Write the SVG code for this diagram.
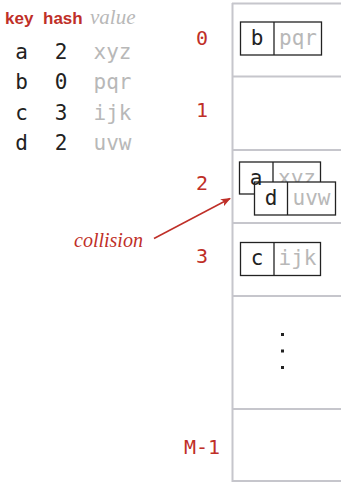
<svg xmlns="http://www.w3.org/2000/svg" width="341" height="482" viewBox="0 0 341 482">
<style>
.hdr{font-family:"Liberation Sans",Arial,sans-serif;font-weight:bold;font-size:17px;fill:#bf2f28}
.hval{font-family:"Liberation Serif","Times New Roman",serif;font-style:italic;font-size:21px;fill:#b8b8b8}
.k{font-family:"DejaVu Sans Mono",monospace;font-size:21px;fill:#222;text-anchor:middle}
.v{font-family:"DejaVu Sans Mono",monospace;font-size:21px;fill:#b8b8b8;text-anchor:middle}
.idx{font-family:"DejaVu Sans Mono",monospace;font-size:20px;fill:#bf2f28;text-anchor:middle}
.grid{stroke:#c6c6cc;stroke-width:2;fill:none}
.box{stroke:#222;stroke-width:1.3;fill:#fff}
.note{font-family:"Liberation Serif","Times New Roman",serif;font-style:italic;font-size:20px;fill:#bf2f28}
</style>
<defs>
<marker id="ah" markerWidth="10" markerHeight="8" refX="9" refY="4" orient="auto" markerUnits="userSpaceOnUse">
<path d="M0,0 L10,4 L0,8 L2.5,4 Z" fill="#bf2f28"/>
</marker>
</defs>
<rect width="341" height="482" fill="#fff"/>

<g id="input-table">
<text class="hdr" x="5" y="24">key</text>
<text class="hdr" x="43" y="24">hash</text>
<text class="hval" x="90" y="24">value</text>
<text class="k" x="21.5" y="59">a</text><text class="k" x="61" y="59">2</text><text class="v" x="112.5" y="59">xyz</text>
<text class="k" x="21.5" y="89">b</text><text class="k" x="61" y="89">0</text><text class="v" x="112.5" y="89">pqr</text>
<text class="k" x="21.5" y="120">c</text><text class="k" x="61" y="120">3</text><text class="v" x="112.5" y="120">ijk</text>
<text class="k" x="21.5" y="150">d</text><text class="k" x="61" y="150">2</text><text class="v" x="112.5" y="150">uvw</text>
</g>

<g id="hash-table">
<line class="grid" x1="232.5" y1="3" x2="232.5" y2="482"/>
<line class="grid" x1="232" y1="3.5" x2="341" y2="3.5"/>
<line class="grid" x1="232" y1="76.5" x2="341" y2="76.5"/>
<line class="grid" x1="232" y1="150" x2="341" y2="150"/>
<line class="grid" x1="232" y1="223" x2="341" y2="223"/>
<line class="grid" x1="232" y1="296" x2="341" y2="296"/>
<line class="grid" x1="232" y1="409" x2="341" y2="409"/>
<line class="grid" x1="232" y1="481" x2="341" y2="481"/>
</g>

<g id="indices">
<text class="idx" x="202" y="45">0</text>
<text class="idx" x="202" y="117">1</text>
<text class="idx" x="202" y="190">2</text>
<text class="idx" x="202" y="263">3</text>
<text class="idx" x="202" y="454">M-1</text>
</g>

<g id="entry-b">
<rect class="box" x="240.5" y="22" width="81" height="33"/>
<line class="box" x1="274" y1="22" x2="274" y2="55"/>
<text class="k" x="257" y="45">b</text>
<text class="v" x="298" y="45">pqr</text>
</g>

<g id="entry-a">
<rect class="box" x="239.5" y="162" width="81" height="32"/>
<line class="box" x1="273" y1="162" x2="273" y2="194"/>
<text class="v" x="297" y="185">xyz</text>
</g>

<g id="entry-d">
<rect class="box" x="254.5" y="182" width="81" height="33"/>
<line class="box" x1="287.5" y1="182" x2="287.5" y2="215"/>
<text class="k" x="271" y="205">d</text>
<text class="v" x="311.5" y="205">uvw</text>
<text class="k" x="256" y="185">a</text>
</g>

<g id="entry-c">
<rect class="box" x="240.5" y="242.5" width="80" height="33"/>
<line class="box" x1="274" y1="242.5" x2="274" y2="275.5"/>
<text class="k" x="257" y="265">c</text>
<text class="v" x="297.5" y="265">ijk</text>
</g>

<g id="ellipsis" fill="#222">
<rect x="281" y="333" width="3" height="3"/>
<rect x="281" y="349.5" width="3" height="3"/>
<rect x="281" y="366" width="3" height="3"/>
</g>

<g id="collision-label">
<text class="note" x="74" y="247">collision</text>
</g>

<g id="connectors">
<line x1="154" y1="238.5" x2="230" y2="198.5" stroke="#bf2f28" stroke-width="1.5" marker-end="url(#ah)"/>
</g>
</svg>
